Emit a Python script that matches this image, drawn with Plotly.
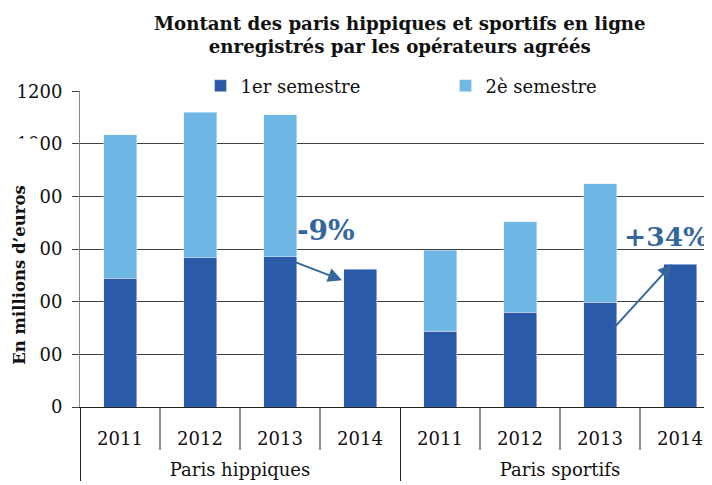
import plotly.graph_objects as go

groups = ["Paris hippiques", "Paris sportifs"]
years = ["2011", "2012", "2013", "2014"]
sem1 = [490, 568, 572, 523, 288, 360, 398, 542]
sem2 = [544, 553, 538, None, 307, 345, 450, None]
series_names = ["1er semestre", "2è semestre"]
y_ticks = [0, 200, 400, 600, 800, 1000, 1200]
title_text = "<b>Montant des paris hippiques et sportifs en ligne<br>enregistrés par les opérateurs agréés</b>"
y_title = "<b>En millions d’euros</b>"
changes = ["-9%", "+34%"]

FONT = "DejaVu Serif"
DARK = "#2B5BA8"
LIGHT = "#6FB7E5"
ARROW = "#35679E"

# leading line break pushes the group labels one line lower
xcat = [["<br>" + g for g in groups for _ in years], [y for _ in groups for y in years]]

fig = go.Figure()
fig.add_trace(go.Bar(x=xcat, y=sem1, name=series_names[0], marker_color=DARK))
fig.add_trace(go.Bar(x=xcat, y=sem2, name=series_names[1], marker_color=LIGHT))

n = len(groups) * len(years)
xr = [-0.5, -0.5 + 632 / 80]

shapes = []
for i in range(1, n):
    if i % len(years) == 0:
        continue
    shapes.append(dict(type="line", xref="x2", yref="paper", x0=i - 0.5, x1=i - 0.5,
                       y0=0, y1=-0.136, line=dict(color="#222222", width=1)))

annotations = [
    dict(text=y_title, xref="paper", yref="paper", x=-0.0965, y=0.4177,
         xanchor="center", yanchor="middle", textangle=-90, showarrow=False,
         bgcolor="white", width=270, height=38,
         font=dict(family=FONT, size=16.5, color="#111111")),
    dict(text=f"<b>{changes[0]}</b>", xref="x2", yref="y", x=2.575, y=672,
         showarrow=False, font=dict(family=FONT, size=28, color=ARROW)),
    dict(text="", xref="x2", yref="y", x=2.775, y=482, axref="x2", ayref="y",
         ax=2.1625, ay=554, showarrow=True, arrowhead=2, arrowsize=1.4,
         arrowwidth=2, arrowcolor=ARROW),
    dict(text=f"<b>{changes[1]}</b>", xref="x2", yref="y", x=6.82, y=649,
         showarrow=False, font=dict(family=FONT, size=26.5, color=ARROW)),
    dict(text="", xref="x2", yref="y", x=6.9, y=543, axref="x2", ayref="y",
         ax=6.16, ay=296, showarrow=True, arrowhead=2, arrowsize=1.4,
         arrowwidth=2, arrowcolor=ARROW),
]

fig.update_layout(
    width=704, height=477,
    margin=dict(l=72, r=0, t=83, b=78, pad=0, autoexpand=False),
    paper_bgcolor="white", plot_bgcolor="white",
    barmode="stack", bargap=0.5875,
    font=dict(family=FONT, size=18, color="#111111"),
    title=dict(text=title_text, x=0.506, xref="paper", xanchor="center",
               y=0.9545, yref="container", yanchor="middle",
               font=dict(family=FONT, size=18.2, color="#111111")),
    legend=dict(orientation="h", x=0.1907, y=1.016, xanchor="left", yanchor="middle",
                bgcolor="white", itemwidth=30, entrywidth=200, traceorder="normal",
                font=dict(family=FONT, size=18, color="#111111")),
    xaxis=dict(type="multicategory", range=xr, showgrid=False, ticks="",
               automargin=False, ticklabelstandoff=15,
               showline=True, linecolor="#222222", linewidth=1,
               showdividers=True, dividercolor="#222222", dividerwidth=1,
               tickfont=dict(family=FONT, size=18, color="#111111")),
    xaxis2=dict(overlaying="x", range=xr, visible=False),
    yaxis=dict(range=[0, 1201], tickvals=y_ticks, showgrid=True, gridcolor="#404040",
               gridwidth=1, ticks="outside", ticklen=7, tickcolor="#404040",
               automargin=False,
               showline=True, linecolor="#888888", linewidth=1, zeroline=False,
               ticklabelstandoff=6,
               tickfont=dict(family=FONT, size=18, color="#111111")),
    shapes=shapes,
    annotations=annotations,
)

fig.write_html("out.html")
